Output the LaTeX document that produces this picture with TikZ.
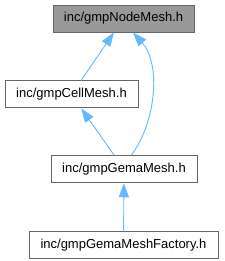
\documentclass[tikz,border=0pt]{standalone}
\usepackage{fontspec}
\setmainfont{Liberation Sans}
\definecolor{EdgeBlue}{HTML}{63B8FF}
\definecolor{BoxLine}{HTML}{666666}
\definecolor{BoxGray}{HTML}{999999}
\usetikzlibrary{arrows.meta, positioning}

\begin{document}
\begin{tikzpicture}[x=1pt, y=-1pt,
      file/.style={draw=BoxLine, fill=white, line width=0.9pt, inner sep=0pt,
        minimum height=27pt, font=\fontsize{13}{15}\selectfont},
      cur/.style={file, fill=BoxGray},
      arr/.style={{Triangle[length=14pt, width=10pt]}-, line width=0.9pt, EdgeBlue}
    ]
      \useasboundingbox (0,0) rectangle (224,261);
      \node[cur, minimum width=141pt] (nodemesh) at (123.5,18.5) {inc/gmpNodeMesh.h};
      \node[file, minimum width=133pt, below=48pt of nodemesh, xshift=-52pt] (cellmesh) {inc/gmpCellMesh.h};
      \node[file, minimum width=146pt, below=47pt of cellmesh, xshift=52.5pt] (gemamesh) {inc/gmpGemaMesh.h};
      \node[file, minimum width=189pt, below=48pt of gemamesh, xshift=-0.5pt] (factory) {inc/gmpGemaMeshFactory.h};
      \draw[arr] (nodemesh) -- (cellmesh);
      \draw[arr] (cellmesh) -- (gemamesh);
      \draw[arr] ([xshift=9.5pt]nodemesh.south) .. controls (162,65) and (155,125) .. ([xshift=7pt]gemamesh.north);
      \draw[arr] (gemamesh) -- (factory);
    \end{tikzpicture}
\end{document}
